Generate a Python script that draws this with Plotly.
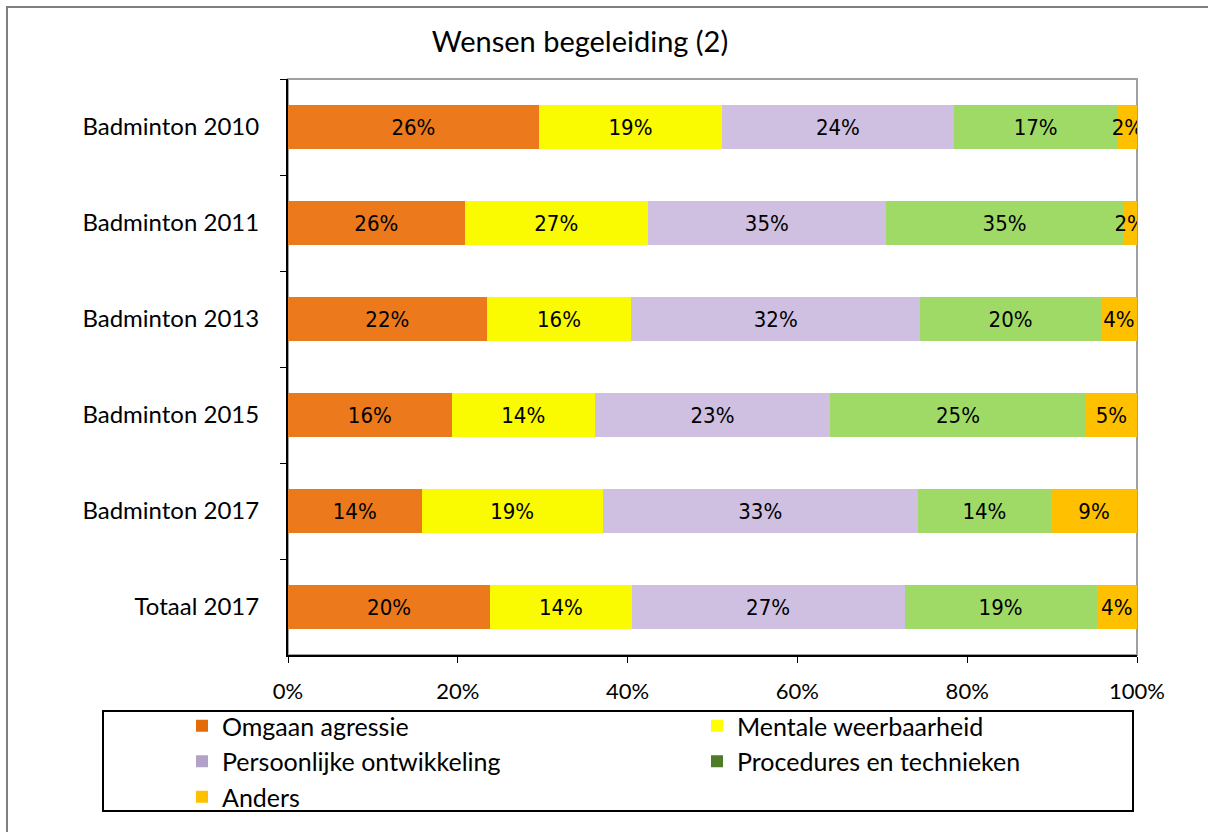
import plotly.graph_objects as go

categories = ["Badminton 2010", "Badminton 2011", "Badminton 2013",
              "Badminton 2015", "Badminton 2017", "Totaal 2017"]
series_names = ["Omgaan agressie", "Mentale weerbaarheid", "Persoonlijke ontwikkeling",
                "Procedures en technieken", "Anders"]
omgaan_agressie = [26, 26, 22, 16, 14, 20]
mentale_weerbaarheid = [19, 27, 16, 14, 19, 14]
persoonlijke_ontwikkeling = [24, 35, 32, 23, 33, 27]
procedures_technieken = [17, 35, 20, 25, 14, 19]
anders = [2, 2, 4, 5, 9, 4]
x_tick_values = [0, 20, 40, 60, 80, 100]
x_tick_labels = ["0%", "20%", "40%", "60%", "80%", "100%"]

series_values = [omgaan_agressie, mentale_weerbaarheid, persoonlijke_ontwikkeling,
                 procedures_technieken, anders]
bar_colors = ["#EC7A1C", "#FAFA00", "#CFBFE0", "#A0DA66", "#FFC000"]
legend_colors = ["#E36C09", "#FFFF00", "#B3A2C7", "#4F7A28", "#FFC000"]
legend_ids = ["legend", "legend2", "legend", "legend2", "legend"]

W, H = 1208, 832
L, R, T, B = 288, 71, 79, 177
PW, PH = W - L - R, H - T - B


def px(x):
    return (x - L) / PW


def py(y):
    return (H - B - y) / PH


NARROW = "Liberation Sans Narrow, Arial Narrow, DejaVu Sans Condensed, sans-serif"
LEG_FONT = dict(family="Lato, Open Sans, sans-serif", size=25, color="black")

fig = go.Figure()
for name, vals, col, lcol, lid in zip(series_names, series_values, bar_colors,
                                      legend_colors, legend_ids):
    fig.add_trace(go.Bar(
        y=categories, x=vals, name=name, orientation="h",
        marker=dict(color=col, line=dict(width=0)),
        text=[f"{v}%" for v in vals], textposition="inside",
        insidetextanchor="middle", textangle=0,
        textfont=dict(family=NARROW, size=22, color="black"),
        hoverinfo="skip", showlegend=False,
    ))
    # legend entry with the legend colour
    fig.add_trace(go.Bar(
        y=[None], x=[None], name=name, orientation="h",
        marker=dict(color=lcol, line=dict(width=0)), showlegend=True,
        hoverinfo="skip", legend=lid,
    ))

legend_common = dict(orientation="v", xref="container", yref="container",
                     xanchor="left", yanchor="top", bgcolor="rgba(0,0,0,0)",
                     borderwidth=0, font=LEG_FONT, itemclick=False,
                     itemdoubleclick=False, traceorder="normal")

fig.update_layout(
    width=W, height=H,
    margin=dict(l=L, r=R, t=T, b=B, pad=0, autoexpand=False),
    barmode="stack", barnorm="percent", bargap=0.55,
    paper_bgcolor="white", plot_bgcolor="white",
    uniformtext=dict(minsize=22, mode="show"),
    font=dict(family="Lato, Open Sans, sans-serif", color="black"),
    title=dict(text="Wensen begeleiding (2)", x=580 / W, xanchor="center",
               y=1 - 42 / H, yanchor="middle",
               font=dict(family="Lato, Open Sans, sans-serif", size=29, color="black")),
    xaxis=dict(range=[0, 100], tickvals=x_tick_values, ticktext=x_tick_labels,
               showgrid=False, zeroline=False, showline=True, linecolor="black",
               linewidth=2, ticks="outside", ticklen=6, tickcolor="black",
               tickfont=dict(size=22), ticklabelstandoff=10),
    yaxis=dict(categoryorder="array", categoryarray=categories, autorange="reversed",
               showgrid=False, zeroline=False, showline=True, linecolor="black",
               linewidth=2, ticks="outside", ticklen=6, tickcolor="black",
               tickson="boundaries", tickfont=dict(size=24), ticklabelstandoff=22),
    legend=dict(x=182 / W, y=1 - 703 / H, **legend_common),
    legend2=dict(x=697 / W, y=1 - 703 / H, **legend_common),
    shapes=[
        dict(type="rect", xref="paper", yref="paper", x0=0, x1=1, y0=0, y1=1,
             line=dict(color="#A0A0A0", width=2), layer="below"),
        dict(type="rect", xref="paper", yref="paper", x0=px(103), x1=px(1133),
             y0=py(711), y1=py(811), line=dict(color="black", width=2)),
        dict(type="rect", xref="paper", yref="paper", x0=px(7), x1=px(1230),
             y0=py(860), y1=py(7), line=dict(color="#7F7F7F", width=2)),
    ],
)

fig.write_html("out.html", config={"displayModeBar": False},
               post_script="document.body.style.margin='0';document.body.style.padding='0';")
